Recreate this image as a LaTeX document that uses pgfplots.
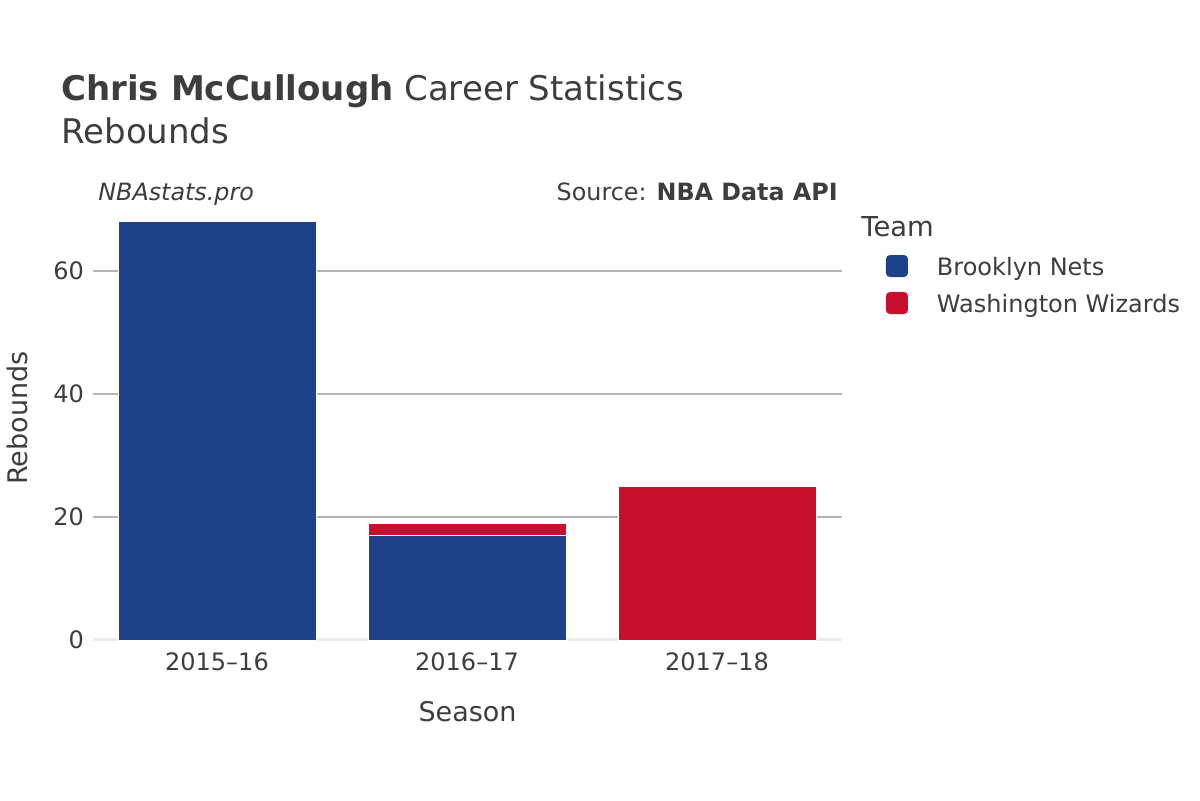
\documentclass[border=0pt]{standalone}
\usepackage{fontspec}
\setmainfont{DejaVu Sans}
\usepackage{pgfplots}
\pgfplotsset{compat=1.18}
\usepackage{xcolor}
\definecolor{nets}{HTML}{1D428A}
\definecolor{wiz}{HTML}{C8102E}
\definecolor{txt}{HTML}{3D3D3D}
\definecolor{gridc}{HTML}{B4B4B4}
\definecolor{zeroc}{HTML}{EBEBEB}

\begin{document}
\begin{tikzpicture}[x=1pt,y=1pt]
% page: 1200x800 px at 0.5pt per px
\fill[white] (0,0) rectangle (600,400);
\useasboundingbox (0,0) rectangle (600,400);

% titles
\node[anchor=base west, inner sep=0, text=txt, font=\fontsize{17}{20}\selectfont] at (30.5,349.5) {\textbf{Chris McCullough} Career Statistics};
\node[anchor=base west, inner sep=0, text=txt, font=\fontsize{17}{20}\selectfont] at (30.5,328) {Rebounds};
\node[anchor=base west, inner sep=0, text=txt, font=\fontsize{11.9}{14}\selectfont\itshape] at (49,300) {NBAstats.pro};
\node[anchor=base east, inner sep=0, text=txt, font=\fontsize{11.9}{14}\selectfont] at (419,300) {Source: \textbf{NBA Data API}};
\node[anchor=base west, inner sep=0, text=txt, font=\fontsize{13.7}{16}\selectfont] at (430.5,282) {Team};

\begin{axis}[
    at={(46.5pt,80pt)}, anchor=south west,
    scale only axis,
    width=374.5pt, height=215.25pt,
    ybar stacked,
    bar width=99pt,
    xmin=-0.496, xmax=2.5,
    ymin=0, ymax=70,
    xtick={0,1,2},
    xticklabels={2015–16,2016–17,2017–18},
    ytick={0,20,40,60},
    ymajorgrids,
    grid style={gridc, line width=0.6pt},
    axis line style={draw=none},
    major tick length=0pt,
    tick label style={text=txt, font=\fontsize{12}{14}\selectfont},
    /pgf/number format/assume math mode=true,
    xticklabel style={yshift=-3pt},
    yticklabel style={xshift=-1pt},
    xlabel={Season},
    ylabel={Rebounds},
    every axis y label/.style={at={(-38pt,111pt)}, rotate=90, anchor=center, text=txt, font=\fontsize{13.5}{16}\selectfont},
    every axis x label/.style={at={(187.25pt,-36pt)}, anchor=center, text=txt, font=\fontsize{13.5}{16}\selectfont},
    legend cell align=left,
    legend style={at={(1.0587,0.8943)}, anchor=north west, draw=none, fill=none,
        inner sep=0pt, outer sep=0pt, row sep=5.1pt,
        nodes={inner sep=0pt, text height=9pt, text depth=3pt, text=txt, font=\fontsize{12}{14}\selectfont}},
    legend image code/.code={
        \path[fill=none, draw=none] (0pt,-3.6pt) rectangle (25.5pt,7.4pt);
        \path[#1, draw=none, rounded corners=2pt] (0pt,-3.6pt) rectangle (11pt,7.4pt);
    },
]
\addplot[fill=nets, draw=white, line width=0.5pt] coordinates {(0,68) (1,17) (2,0)};
\addlegendentry{Brooklyn Nets}
\addplot[fill=wiz, draw=white, line width=0.5pt] coordinates {(0,0) (1,2) (2,25)};
\addlegendentry{Washington Wizards}
\draw[zeroc, line width=1.8pt] (rel axis cs:0,0) -- (rel axis cs:1,0);
\end{axis}
\end{tikzpicture}
\end{document}
